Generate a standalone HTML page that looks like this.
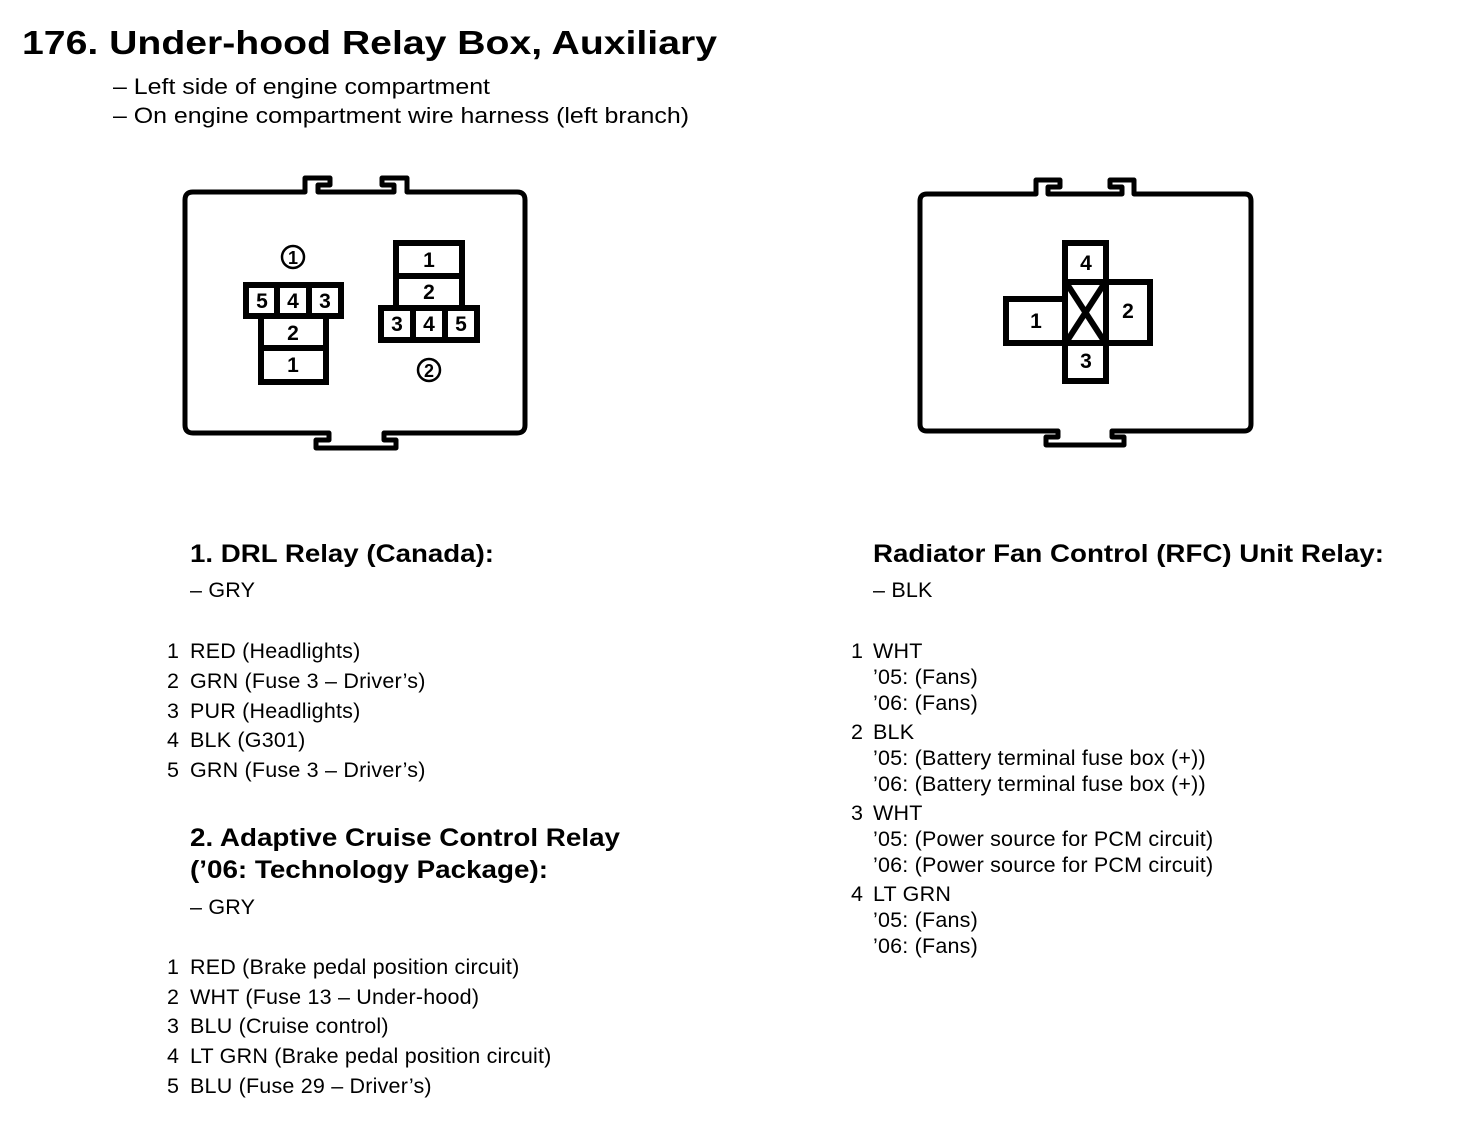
<!DOCTYPE html>
<html><head><meta charset="utf-8"><style>
html,body{margin:0;padding:0;background:#fff;}
svg{display:block;}
text{font-family:"Liberation Sans",Arial,sans-serif;fill:#000;}
.b{font-weight:bold;}
.t{font-size:21.5px;letter-spacing:0.2px;}
.h{font-size:25px;font-weight:bold;}
.n{font-size:21px;font-weight:bold;text-anchor:middle;}
</style></head><body>
<svg width="1472" height="1138" viewBox="0 0 1472 1138" xmlns="http://www.w3.org/2000/svg">
<text x="22" y="54" class="b" font-size="33" textLength="695" lengthAdjust="spacingAndGlyphs">176. Under-hood Relay Box, Auxiliary</text>
<text x="113" y="94" font-size="22" textLength="377" lengthAdjust="spacingAndGlyphs">– Left side of engine compartment</text>
<text x="113" y="123" font-size="22" textLength="576" lengthAdjust="spacingAndGlyphs">– On engine compartment wire harness (left branch)</text>

<g fill="none" stroke="#000" stroke-width="5" stroke-linejoin="round">
<path d="M305,192 L305,178 L330,178 L330,185 L318,185 L318,192 L394,192 L394,185 L382,185 L382,178 L407,178 L407,192 L517,192 Q525,192 525,200 L525,425 Q525,433 517,433 L384,433 L384,440 L396,440 L396,448 L316,448 L316,440 L329,440 L329,433 L193,433 Q185,433 185,425 L185,200 Q185,192 193,192 Z"/>
<path d="M1036,194 L1036,180 L1060,180 L1060,187 L1048,187 L1048,194 L1122,194 L1122,187 L1110,187 L1110,180 L1134,180 L1134,194 L1245,194 Q1251,194 1251,201 L1251,424 Q1251,431 1244,431 L1112,431 L1112,437 L1124,437 L1124,445 L1046,445 L1046,437 L1058,437 L1058,431 L927,431 Q920,431 920,424 L920,201 Q920,194 927,194 Z"/>
</g>
<g fill="none" stroke="#000" stroke-width="6">
<rect x="246" y="285" width="95" height="31"/>
<line x1="277" y1="285" x2="277" y2="316"/><line x1="309" y1="285" x2="309" y2="316"/>
<rect x="261" y="316" width="65" height="66"/>
<line x1="261" y1="348" x2="326" y2="348"/>
<rect x="396" y="243" width="66" height="65"/>
<line x1="396" y1="276" x2="462" y2="276"/>
<rect x="381" y="308" width="96" height="32"/>
<line x1="413" y1="308" x2="413" y2="340"/><line x1="445" y1="308" x2="445" y2="340"/>
<rect x="1065" y="243" width="41" height="39"/>
<rect x="1106" y="282" width="44" height="61"/>
<rect x="1006" y="299" width="59" height="44"/>
<rect x="1065" y="343" width="41" height="38"/>
<rect x="1065" y="282" width="41" height="61"/>
<line x1="1067" y1="284" x2="1104" y2="341"/><line x1="1104" y1="284" x2="1067" y2="341"/>
</g>
<g fill="none" stroke="#000" stroke-width="2.5">
<circle cx="293" cy="257" r="11"/><circle cx="429" cy="370" r="11"/>
</g>
<text x="293" y="264" font-size="18" font-weight="bold" text-anchor="middle">1</text>
<text x="429" y="377" font-size="18" font-weight="bold" text-anchor="middle">2</text>
<text class="n" x="262" y="308">5</text><text class="n" x="293" y="308">4</text><text class="n" x="325" y="308">3</text>
<text class="n" x="293" y="340">2</text><text class="n" x="293" y="372">1</text>
<text class="n" x="429" y="267">1</text><text class="n" x="429" y="299">2</text>
<text class="n" x="397" y="331">3</text><text class="n" x="429" y="331">4</text><text class="n" x="461" y="331">5</text>
<text class="n" x="1086" y="270">4</text><text class="n" x="1128" y="318">2</text>
<text class="n" x="1036" y="328">1</text><text class="n" x="1086" y="368">3</text>

<text class="h" x="190" y="562" textLength="304" lengthAdjust="spacingAndGlyphs">1. DRL Relay (Canada):</text>
<text class="t" x="190" y="597">– GRY</text>
<text x="167" y="658" class="t">1</text><text x="190" y="658" class="t">RED (Headlights)</text>
<text x="167" y="688" class="t">2</text><text x="190" y="688" class="t">GRN (Fuse 3 – Driver’s)</text>
<text x="167" y="718" class="t">3</text><text x="190" y="718" class="t">PUR (Headlights)</text>
<text x="167" y="747" class="t">4</text><text x="190" y="747" class="t">BLK (G301)</text>
<text x="167" y="777" class="t">5</text><text x="190" y="777" class="t">GRN (Fuse 3 – Driver’s)</text>
<text class="h" x="190" y="846" textLength="430" lengthAdjust="spacingAndGlyphs">2. Adaptive Cruise Control Relay</text>
<text class="h" x="190" y="878" textLength="358" lengthAdjust="spacingAndGlyphs">(’06: Technology Package):</text>
<text class="t" x="190" y="914">– GRY</text>
<text x="167" y="974" class="t">1</text><text x="190" y="974" class="t">RED (Brake pedal position circuit)</text>
<text x="167" y="1004" class="t">2</text><text x="190" y="1004" class="t">WHT (Fuse 13 – Under-hood)</text>
<text x="167" y="1033" class="t">3</text><text x="190" y="1033" class="t">BLU (Cruise control)</text>
<text x="167" y="1063" class="t">4</text><text x="190" y="1063" class="t">LT GRN (Brake pedal position circuit)</text>
<text x="167" y="1093" class="t">5</text><text x="190" y="1093" class="t">BLU (Fuse 29 – Driver’s)</text>

<text class="h" x="873" y="562" textLength="511" lengthAdjust="spacingAndGlyphs">Radiator Fan Control (RFC) Unit Relay:</text>
<text class="t" x="873" y="597">– BLK</text>
<text x="851" y="658" class="t">1</text><text x="873" y="658" class="t">WHT</text>
<text x="873" y="684" class="t">’05: (Fans)</text>
<text x="873" y="710" class="t">’06: (Fans)</text>
<text x="851" y="739" class="t">2</text><text x="873" y="739" class="t">BLK</text>
<text x="873" y="765" class="t">’05: (Battery terminal fuse box (+))</text>
<text x="873" y="791" class="t">’06: (Battery terminal fuse box (+))</text>
<text x="851" y="820" class="t">3</text><text x="873" y="820" class="t">WHT</text>
<text x="873" y="846" class="t">’05: (Power source for PCM circuit)</text>
<text x="873" y="872" class="t">’06: (Power source for PCM circuit)</text>
<text x="851" y="901" class="t">4</text><text x="873" y="901" class="t">LT GRN</text>
<text x="873" y="927" class="t">’05: (Fans)</text>
<text x="873" y="953" class="t">’06: (Fans)</text>
</svg>
</body></html>
